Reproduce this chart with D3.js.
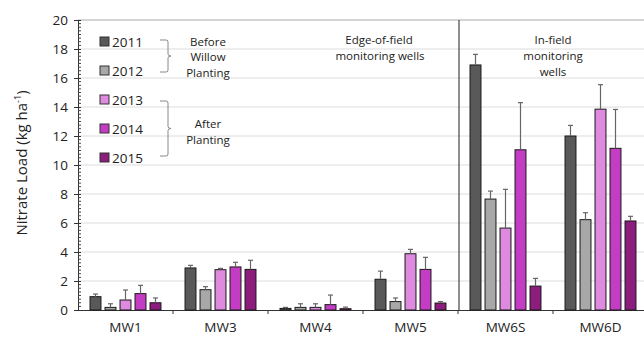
<!DOCTYPE html>
<html>
<head>
<meta charset="utf-8">
<script src="https://cdn.jsdelivr.net/npm/d3@7"></script>
<style>
  body { margin: 0; background: #fff; }
  svg text { font-family: "Open Sans", "DejaVu Sans", sans-serif; fill: #222; }
</style>
</head>
<body>
<div id="chart"></div>
<script>
// data
const wells = ["MW1", "MW3", "MW4", "MW5", "MW6S", "MW6D"];
const years = ["2011", "2012", "2013", "2014", "2015"];
const load = {
  "2011": [0.92, 2.9, 0.11, 2.12, 16.9, 12.0],
  "2012": [0.18, 1.4, 0.18, 0.58, 7.65, 6.23],
  "2013": [0.69, 2.78, 0.18, 3.88, 5.65, 13.85],
  "2014": [1.13, 2.97, 0.37, 2.8, 11.05, 11.15],
  "2015": [0.5, 2.8, 0.09, 0.48, 1.65, 6.14]
};
const errTop = {
  "2011": [1.1, 3.08, 0.18, 2.68, 17.63, 12.73],
  "2012": [0.43, 1.61, 0.43, 0.83, 8.2, 6.71],
  "2013": [1.38, 2.87, 0.43, 4.18, 8.32, 15.54],
  "2014": [1.7, 3.29, 1.03, 3.63, 14.3, 13.83],
  "2015": [0.83, 3.43, 0.2, 0.58, 2.18, 6.46]
};
const yTicks = [0, 2, 4, 6, 8, 10, 12, 14, 16, 18, 20];
const colors = {
  "2011": "#595959",
  "2012": "#a8a8a8",
  "2013": "#de8ade",
  "2014": "#c43cc4",
  "2015": "#8c1d7c"
};

const W = 644, H = 337;
const margin = { top: 20, left: 78 };
const plotH = 290;

const svg = d3.select("#chart").append("svg")
  .attr("width", W).attr("height", H);

const x0 = d3.scaleBand().domain(wells).range([margin.left, margin.left + 95 * wells.length]);
const x1 = d3.scaleBand().domain(years).range([10, 85]).paddingInner(0.27).paddingOuter(0.135);
const y = d3.scaleLinear().domain([0, 20]).range([margin.top + plotH, margin.top]);

// gridlines
svg.append("g")
  .selectAll("line")
  .data(yTicks.filter(d => d > 0))
  .join("line")
  .attr("x1", margin.left).attr("x2", W)
  .attr("y1", d => y(d)).attr("y2", d => y(d))
  .attr("stroke", d => d === 20 ? "#aaa" : "#dcdcdc")
  .attr("stroke-width", 1);

// y axis with minor ticks
const yAxis = svg.append("g")
  .attr("transform", `translate(${margin.left},0)`);
yAxis.call(d3.axisLeft(y).tickValues(yTicks).tickSize(4).tickPadding(6))
  .call(g => g.select(".domain").attr("stroke", "#333"))
  .call(g => g.selectAll(".tick line").attr("stroke", "#333").attr("x2", 3).attr("x1", -4))
  .call(g => g.selectAll(".tick text").style("font-size", "13.5px").attr("fill", "#222"));
yAxis.selectAll(".minor")
  .data(d3.range(0, 20.01, 0.25).filter(v => v % 2 !== 0))
  .join("line")
  .attr("class", "minor")
  .attr("x1", 0).attr("x2", 3)
  .attr("y1", d => y(d)).attr("y2", d => y(d))
  .attr("stroke", "#444");

// x axis
const xAxis = svg.append("g")
  .attr("transform", `translate(0,${y(0)})`);
xAxis.call(d3.axisBottom(x0).tickSize(0).tickPadding(12))
  .call(g => g.select(".domain").attr("stroke", "#333"))
  .call(g => g.selectAll(".tick text").style("font-size", "13.5px").attr("fill", "#222"));
xAxis.selectAll(".sep")
  .data(wells.slice(1))
  .join("line")
  .attr("class", "sep")
  .attr("x1", d => x0(d)).attr("x2", d => x0(d))
  .attr("y1", 0).attr("y2", 4)
  .attr("stroke", "#333");

// separator between edge and in-field wells
svg.append("line")
  .attr("x1", x0("MW6S") + 1).attr("x2", x0("MW6S") + 1)
  .attr("y1", y(20)).attr("y2", y(0))
  .attr("stroke", "#444").attr("stroke-width", 1.2);

// bars
const rows = [];
years.forEach(yr => wells.forEach((w, i) => rows.push({ yr, w, v: load[yr][i], e: errTop[yr][i] })));

const g = svg.append("g");
g.selectAll("rect")
  .data(rows)
  .join("rect")
  .attr("x", d => x0(d.w) + x1(d.yr))
  .attr("y", d => y(d.v))
  .attr("width", x1.bandwidth())
  .attr("height", d => y(0) - y(d.v))
  .attr("fill", d => colors[d.yr])
  .attr("stroke", "#1a1a1a")
  .attr("stroke-width", 1);

// error bars (upper only)
const eb = svg.append("g").attr("stroke", "#666").attr("stroke-width", 1.2);
eb.selectAll(".ev")
  .data(rows)
  .join("line")
  .attr("class", "ev")
  .attr("x1", d => x0(d.w) + x1(d.yr) + x1.bandwidth() / 2)
  .attr("x2", d => x0(d.w) + x1(d.yr) + x1.bandwidth() / 2)
  .attr("y1", d => y(d.v))
  .attr("y2", d => y(d.e));
eb.selectAll(".ec")
  .data(rows)
  .join("line")
  .attr("class", "ec")
  .attr("x1", d => x0(d.w) + x1(d.yr) + x1.bandwidth() / 2 - 2.5)
  .attr("x2", d => x0(d.w) + x1(d.yr) + x1.bandwidth() / 2 + 2.5)
  .attr("y1", d => y(d.e))
  .attr("y2", d => y(d.e));

// y title
svg.append("text")
  .attr("transform", `translate(27,${y(10) - 2}) rotate(-90)`)
  .attr("text-anchor", "middle")
  .style("font-size", "15px")
  .text("Nitrate Load (kg ha")
  .append("tspan").attr("baseline-shift", "super").style("font-size", "9px").text("-1")
  .select(function () { return this.parentNode; })
  .append("tspan").text(")");

// legend
const legY = { "2011": 42, "2012": 71, "2013": 100, "2014": 129, "2015": 158 };
const leg = svg.append("g");
years.forEach(yr => {
  leg.append("rect")
    .attr("x", 100).attr("y", legY[yr] - 5)
    .attr("width", 9).attr("height", 9)
    .attr("fill", colors[yr]).attr("stroke", "#333").attr("stroke-width", 1);
  leg.append("text")
    .attr("x", 112).attr("y", legY[yr] + 5)
    .style("font-size", "13.5px")
    .text(yr);
});

// braces
function brace(top, bot) {
  const mid = (top + bot) / 2;
  return `M160,${top} L166,${top} Q168,${top} 168,${top + 2} L168,${mid - 2} Q168,${mid} 171,${mid}` +
    ` Q168,${mid} 168,${mid + 2} L168,${bot - 2} Q168,${bot} 166,${bot} L160,${bot}`;
}
svg.append("path").attr("d", brace(40, 72)).attr("fill", "none").attr("stroke", "#888");
svg.append("path").attr("d", brace(101, 156)).attr("fill", "none").attr("stroke", "#888");

const notes = [
  { x: 208, y: 46, t: "Before" },
  { x: 208, y: 61, t: "Willow" },
  { x: 208, y: 77, t: "Planting" },
  { x: 208, y: 128, t: "After" },
  { x: 208, y: 144, t: "Planting" },
  { x: 379, y: 44, t: "Edge-of-field" },
  { x: 380, y: 60, t: "monitoring wells" },
  { x: 553, y: 44, t: "In-field" },
  { x: 553, y: 60, t: "monitoring" },
  { x: 553, y: 76, t: "wells" }
];
svg.append("g").selectAll("text")
  .data(notes)
  .join("text")
  .attr("x", d => d.x).attr("y", d => d.y)
  .attr("text-anchor", "middle")
  .style("font-size", "11.5px")
  .text(d => d.t);
</script>
</body>
</html>
